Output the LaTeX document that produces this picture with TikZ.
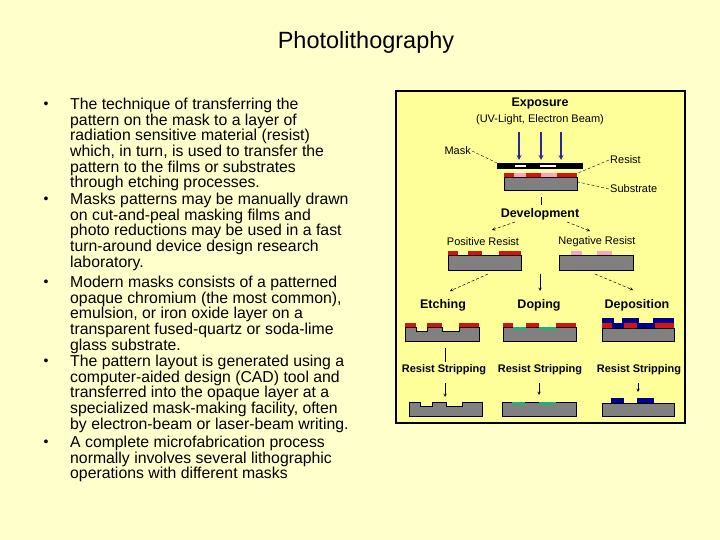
\documentclass[tikz,border=0pt]{standalone}
\usepackage{fontspec}
\setmainfont{Liberation Sans}
\begin{document}
\begin{tikzpicture}[x=1pt,y=-1pt,
  para/.style={anchor=north west,align=left,font=\fontsize{15.8}{15.6}\selectfont,inner sep=0pt},
  bul/.style={font=\fontsize{14}{15}\selectfont,inner sep=0pt},
  hd/.style={font=\bfseries\fontsize{12.5}{14}\selectfont,inner sep=1pt},
  lb/.style={font=\fontsize{11}{12}\selectfont,inner sep=1pt},
  lbb/.style={font=\bfseries\fontsize{11}{12}\selectfont,inner sep=1pt},
  sub/.style={fill={rgb,255:red,128;green,128;blue,128},draw=black,line width=0.5pt},
  res/.style={fill={rgb,255:red,210;green,20;blue,20}},
  pnk/.style={fill={rgb,255:red,255;green,160;blue,200}},
  grn/.style={fill={rgb,255:red,40;green,170;blue,130}},
  blu/.style={fill={rgb,255:red,0;green,0;blue,140}},
  arr/.style={-stealth,line width=0.5pt},
  thk/.style={-stealth,line width=1.2pt,color={rgb,255:red,40;green,40;blue,160}}]
\fill[fill={rgb,255:red,255;green,255;blue,204}] (0,0) rectangle (720,540);
\useasboundingbox (0,0) rectangle (720,540);
\node[font=\fontsize{23.5}{26}\selectfont] (title) at (366,42) {Photolithography};
% bullets
\foreach \n/\yy in {1/105,2/200,3/283,4/362,5/443} \node[bul] (b\n) at (46,\yy) {•};
\node[para] (p1) at (70,98) {The technique of transferring the\\pattern on the mask to a layer of\\radiation sensitive material (resist)\\which, in turn, is used to transfer the\\pattern to the films or substrates\\through etching processes.};
\node[para] (p2) at (70,193) {Masks patterns may be manually drawn\\on cut-and-peal masking films and\\photo reductions may be used in a fast\\turn-around device design research\\laboratory.};
\node[para] (p3) at (70,276) {Modern masks consists of a patterned\\opaque chromium (the most common),\\emulsion, or iron oxide layer on a\\transparent fused-quartz or soda-lime\\glass substrate.};
\node[para] (p4) at (70,355) {The pattern layout is generated using a\\computer-aided design (CAD) tool and\\transferred into the opaque layer at a\\specialized mask-making facility, often\\by electron-beam or laser-beam writing.};
\node[para] (p5) at (70,436) {A complete microfabrication process\\normally involves several lithographic\\operations with different masks};
% panel
\draw[line width=2pt,fill={rgb,255:red,255;green,255;blue,153}] (396,91) rectangle (685,423);
\node[hd] (exp) at (540,103) {Exposure};
\node[lb] (uv) at (540,120) {(UV-Light, Electron Beam)};
\foreach \x in {519,541,561} \draw[thk] (\x,132) -- (\x,160);
% mask
\fill[black] (497,163) rectangle (583,169);
\fill[white] (515,165) rectangle (526,167.5);
\fill[white] (540,165) rectangle (556,167.5);
% wafer exposure
\draw[sub] (504,177) rectangle (577,190);
\fill[res] (504,173) rectangle (577,177);
\fill[pnk] (514,173) rectangle (526,177);
\fill[pnk] (541,173) rectangle (557,177);
\node[lb,anchor=east] (mask) at (472,151) {Mask};
\node[lb,anchor=west] (resist) at (609,160) {Resist};
\node[lb,anchor=west] (substr) at (609,189) {Substrate};
\coordinate (mk) at (497,163); \coordinate (rk) at (578,173); \coordinate (sk) at (578,182);
\draw[densely dashed,line width=0.4pt] (mask.east) -- (mk);
\draw[densely dashed,line width=0.4pt] (resist.west) -- (rk);
\draw[densely dashed,line width=0.4pt] (substr.west) -- (sk);
\draw[line width=0.5pt] (541,197) -- (541,205);
\node[hd] (dev) at (540,214) {Development};
\node[lb] (pos) at (483,242) {Positive Resist};
\node[lb] (neg) at (597,242) {Negative Resist};
\draw[arr,densely dashed] (515,222) -- (492,230);
\draw[arr,densely dashed] (567,222) -- (590,231);
% positive / negative wafers
\draw[sub] (448,255) rectangle (521,270);
\fill[res] (448,251) rectangle (458,255); \fill[res] (468,251) rectangle (482,255); \fill[res] (499,251) rectangle (521,255);
\draw[sub] (559,255) rectangle (633,270);
\fill[pnk] (571,251) rectangle (582,255); \fill[pnk] (597,251) rectangle (612,255);
\draw[arr,densely dashed] (488,274) -- (450,291);
\draw[arr] (540,274) -- (540,291);
\draw[arr,densely dashed] (595,274) -- (633,290);
\node[hd] (etch) at (443,305) {Etching};
\node[hd] (dop) at (539,305) {Doping};
\node[hd] (depo) at (637,305) {Deposition};
% etching
\draw[sub] (405,327) -- (416,327) -- (416,331) -- (427,331) -- (427,327) -- (442,327) -- (442,331) -- (459,331) -- (459,327) -- (479,327) -- (479,341) -- (405,341) -- cycle;
\fill[res] (405,323) rectangle (416,327); \fill[res] (427,323) rectangle (442,327); \fill[res] (459,323) rectangle (479,327);
% doping
\draw[sub] (503,327) rectangle (576,341);
\fill[res] (503,323) rectangle (513,327); \fill[res] (526,323) rectangle (539,327); \fill[res] (556,323) rectangle (576,327);
\fill[grn] (513,327) rectangle (526,330); \fill[grn] (539,327) rectangle (556,330);
% deposition
\draw[sub] (602,328) rectangle (674,341);
\fill[blu] (602,323) rectangle (674,328);
\fill[blu] (602,318) rectangle (614,323); \fill[blu] (622,318) rectangle (639,323); \fill[blu] (653,318) rectangle (674,323);
\fill[res] (602,323) rectangle (612,328); \fill[res] (624,323) rectangle (637,328); \fill[res] (655,323) rectangle (674,328);
% stripping
\draw[line width=0.5pt] (445,348) -- (445,362);
\node[lbb] (rs1) at (444,370) {Resist Stripping};
\node[lbb] (rs2) at (540,370) {Resist Stripping};
\node[lbb] (rs3) at (639,370) {Resist Stripping};
\draw[arr] (445,383) -- (445,397);
\draw[arr] (539,383) -- (539,395);
\draw[arr] (638,383) -- (638,392);
% finals
\draw[sub] (409,402) -- (420,402) -- (420,406) -- (432,406) -- (432,402) -- (446,402) -- (446,406) -- (462,406) -- (462,402) -- (482,402) -- (482,416) -- (409,416) -- cycle;
\draw[sub] (502,402) rectangle (576,416);
\fill[grn] (512,402) rectangle (525,405); \fill[grn] (539,402) rectangle (556,405);
\draw[sub] (602,403) rectangle (674,416);
\fill[blu] (611,398) rectangle (624,403); \fill[blu] (637,398) rectangle (654,403);
\end{tikzpicture}
\end{document}
